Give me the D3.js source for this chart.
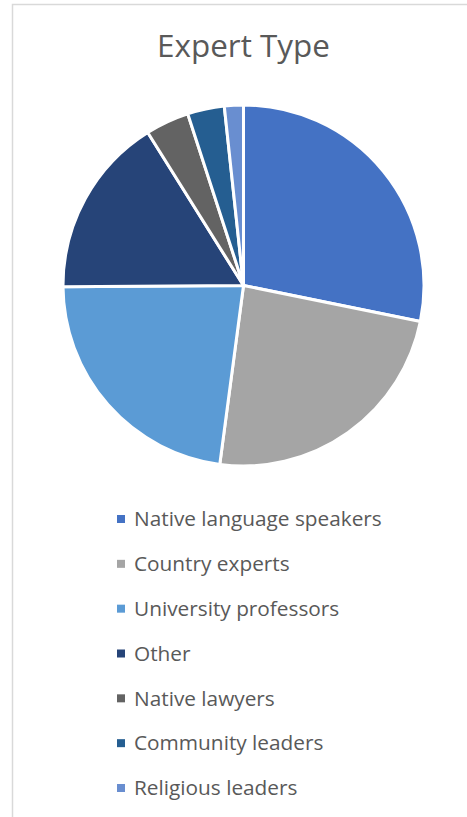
<!DOCTYPE html>
<html>
<head>
<meta charset="utf-8">
<script src="https://cdn.jsdelivr.net/npm/d3@7"></script>
<style>
  html, body { margin: 0; padding: 0; background: #ffffff; }
  svg { display: block; }
</style>
</head>
<body>
<svg id="chart" width="467" height="817"></svg>
<script>
const categories = ["Native language speakers", "Country experts", "University professors", "Other", "Native lawyers", "Community leaders", "Religious leaders"];
const values = [28.2, 23.9, 22.8, 16.2, 3.9, 3.3, 1.7];
const colors = ["#4472C4", "#A5A5A5", "#5B9BD5", "#264478", "#636363", "#255E91", "#698ED0"];
const title = "Expert Type";

const W = 467, H = 817;
const svg = d3.select("#chart");
const font = "'Open Sans', Lato, sans-serif";

// chart area border (left and top visible)
svg.append("path")
  .attr("d", "M12.5,817 L12.5,4.5 L467,4.5")
  .attr("fill", "none")
  .attr("stroke", "#D9D9D9")
  .attr("stroke-width", 1.5);

const titleText = svg.append("text")
  .attr("x", 243.5).attr("y", 57)
  .attr("text-anchor", "middle")
  .attr("font-family", font)
  .attr("font-size", 30)
  .attr("fill", "#595959")
  .text(title);
// fit title to width in reference
{
  const w = titleText.node().getComputedTextLength();
  titleText.attr("font-size", 30 * 173 / w);
}

const cx = 243.5, cy = 285.5, r = 180.5;
const data = categories.map((c, i) => ({ name: c, value: values[i], color: colors[i] }));
const pie = d3.pie().value(d => d.value).sort(null);
const arc = d3.arc().innerRadius(0).outerRadius(r);

const g = svg.append("g").attr("transform", `translate(${cx},${cy})`);
g.selectAll("path").data(pie(data)).join("path")
  .attr("d", arc)
  .attr("fill", d => d.data.color)
  .attr("stroke", "#ffffff")
  .attr("stroke-width", 3)
  .attr("stroke-linejoin", "round");

const legendY = d3.scalePoint().domain(categories).range([519, 788]);
const lg = svg.append("g");
const items = lg.selectAll("g").data(data).join("g")
  .attr("transform", d => `translate(0,${legendY(d.name)})`);
items.append("rect")
  .attr("x", 117).attr("y", -4).attr("width", 8).attr("height", 8)
  .attr("fill", d => d.color);
const labels = items.append("text")
  .attr("x", 134).attr("y", 0).attr("dy", "0.35em")
  .attr("font-family", font)
  .attr("font-size", 20)
  .attr("fill", "#595959")
  .text(d => d.name);
{
  const w = labels.nodes()[0].getComputedTextLength();
  labels.attr("font-size", 20 * 248 / w);
}
</script>
</body>
</html>
